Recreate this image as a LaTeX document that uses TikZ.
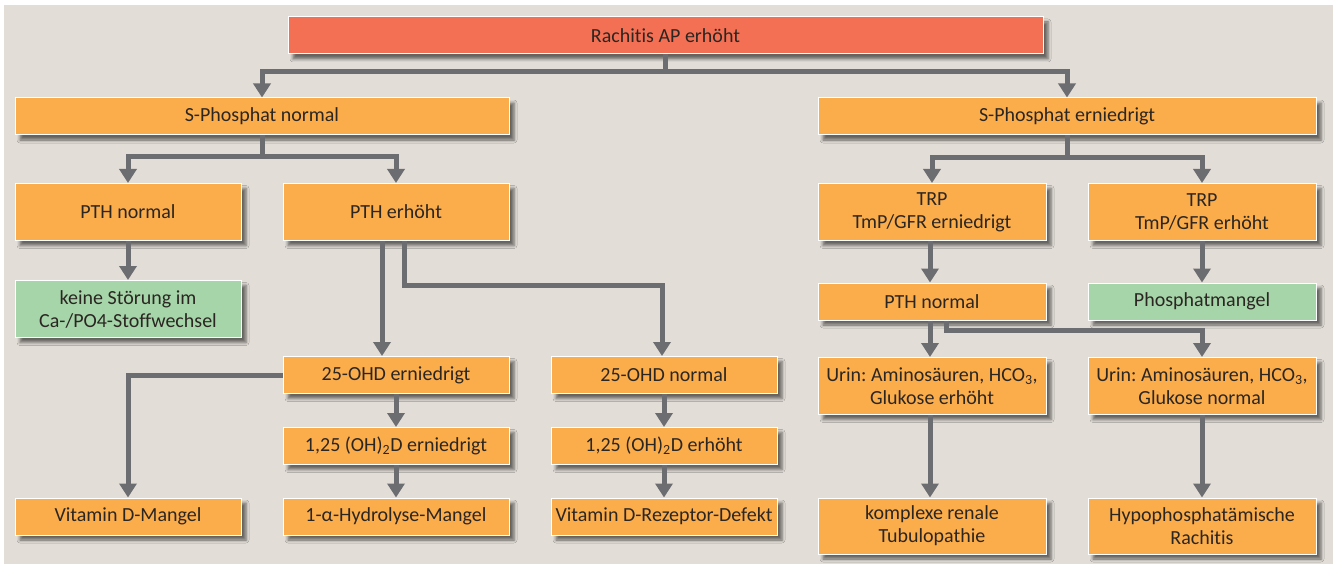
\documentclass[tikz,border=0pt]{standalone}
\usepackage{fontspec}
\setmainfont{Carlito}[Ligatures=NoCommon]
\frenchspacing
\usetikzlibrary{arrows.meta,shadows.blur}
\definecolor{bgc}{HTML}{E2DDD7}
\definecolor{orng}{HTML}{FBAD4B}
\definecolor{redb}{HTML}{F37055}
\definecolor{grnb}{HTML}{A6D5A9}
\definecolor{linec}{HTML}{6C6D70}
\definecolor{txtc}{HTML}{2B2622}
\tikzset{
  box/.style={rectangle, draw=white, line width=1pt, fill=orng, text=txtc,
    minimum width=226pt, minimum height=37pt, inner sep=0pt, align=center,
    font=\fontsize{20}{23}\selectfont,
    blur shadow={shadow xshift=5pt, shadow yshift=-5pt, shadow blur radius=3pt, shadow opacity=55}},
  tall/.style={minimum height=57pt},
  greenbox/.style={fill=grnb},
  redbox/.style={fill=redb},
  conn/.style={draw=linec, line width=5pt, -{Triangle[width=17pt,length=14pt]}},
}
\begin{document}
\begin{tikzpicture}[x=1pt,y=-1pt]
\useasboundingbox (0,0) rectangle (1333,564);
\fill[bgc] (4,5) rectangle (1333,564);
% nodes
\node[box,redbox,minimum width=755pt] (top) at (665.5,35.5) {Rachitis AP erhöht};
\node[box,minimum width=494pt] (sn) at (262,116.5) {S-Phosphat normal};
\node[box,minimum width=498pt] (se) at (1067,116.5) {S-Phosphat erniedrigt};
\node[box,tall] (pthn) at (128,212) {PTH normal};
\node[box,tall] (pthe) at (396,212) {PTH erhöht};
\node[box,tall,minimum width=228pt] (trpa) at (932,212) {TRP\\TmP/GFR erniedrigt};
\node[box,tall,minimum width=228pt] (trpb) at (1202,212) {TRP\\TmP/GFR erhöht};
\node[box,tall,greenbox] (keine) at (128,309) {keine Störung im\\Ca-/PO4-Stoffwechsel};
\node[box,minimum width=228pt] (pthr) at (932,301.5) {PTH normal};
\node[box,greenbox,minimum width=228pt] (phos) at (1202,301.5) {Phosphatmangel};
\node[box] (ohda) at (396,375) {25-OHD erniedrigt};
\node[box] (ohdb) at (664,375) {25-OHD normal};
\node[box,tall,minimum width=228pt] (urina) at (932,386) {Urin: Aminosäuren, HCO\textsubscript{3},\\Glukose erhöht};
\node[box,tall,minimum width=228pt] (urinb) at (1202,386) {Urin: Aminosäuren, HCO\textsubscript{3},\\Glukose normal};
\node[box] (vda) at (396,446) {1,25 (OH)\textsubscript{2}D erniedrigt};
\node[box] (vdb) at (664,446) {1,25 (OH)\textsubscript{2}D erhöht};
\node[box] (vdm) at (128,516.5) {Vitamin D-Mangel};
\node[box] (hyd) at (396,516.5) {1-α-Hydrolyse-Mangel};
\node[box] (vdr) at (664,516.5) {Vitamin D-Rezeptor-Defekt};
\node[box,minimum width=228pt,minimum height=56pt] (kom) at (932,526) {komplexe renale\\Tubulopathie};
\node[box,minimum width=228pt,minimum height=56pt] (hyp) at (1202,526) {Hypophosphatämische\\Rachitis};
% connectors
\draw[conn] (top.south) -- ++(0,17) -| (sn.north);
\draw[conn] (top.south) -- ++(0,17) -| (se.north);
\draw[conn] (sn.south) -- ++(0,21) -| (pthn.north);
\draw[conn] (sn.south) -- ++(0,21) -| (pthe.north);
\draw[conn] (se.south) -- ++(0,22) -| (trpa.north);
\draw[conn] (se.south) -- ++(0,22) -| (trpb.north);
\draw[conn] (pthn.south) -- (keine.north);
\draw[conn] ([xshift=-14pt]pthe.south) -- ([xshift=-14pt]ohda.north);
\draw[conn] ([xshift=8pt]pthe.south) -- ++(0,44) -| ([xshift=-2pt]ohdb.north);
\draw[conn] (ohda.west) -| (vdm.north);
\draw[conn] (ohda) -- (vda);
\draw[conn] (vda) -- (hyd);
\draw[conn] (ohdb) -- (vdb);
\draw[conn] (vdb) -- (vdr);
\draw[conn] ([xshift=-2pt]trpa.south) -- ([xshift=-2pt]pthr.north);
\draw[conn] (trpb.south) -- (phos.north);
\draw[conn] ([xshift=-2pt]pthr.south) -- ([xshift=-2pt]urina.north);
\draw[conn] ([xshift=14pt]pthr.south) -- ++(0,10) -| (urinb.north);
\draw[conn] ([xshift=-2pt]urina.south) -- ([xshift=-2pt]kom.north);
\draw[conn] (urinb.south) -- (hyp.north);
\end{tikzpicture}
\end{document}
